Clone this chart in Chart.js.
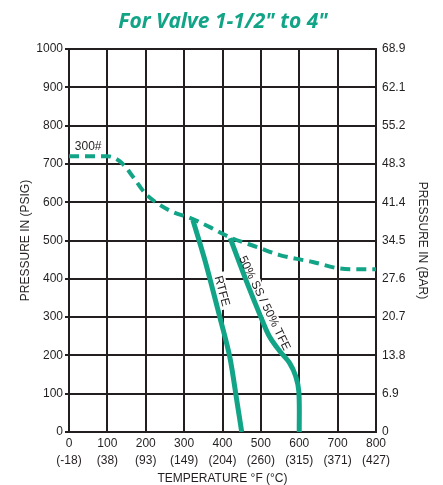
<!DOCTYPE html>
<html><head><meta charset="utf-8">
<script src="https://cdn.jsdelivr.net/npm/chart.js@4/dist/chart.umd.min.js"></script>
<style>html,body{margin:0;padding:0;background:#fff}</style>
</head><body>
<canvas id="c" width="443" height="485" style="width:443px;height:485px;display:block"></canvas>
<script>
// ---- data ----
const titleText = 'For Valve 1-1/2" to 4"';
const tempTicksF = [0, 100, 200, 300, 400, 500, 600, 700, 800];
const tempTicksC = ['(-18)', '(38)', '(93)', '(149)', '(204)', '(260)', '(315)', '(371)', '(427)'];
const psiTicks = [0, 100, 200, 300, 400, 500, 600, 700, 800, 900, 1000];
const barTicks = ['0', '6.9', '13.8', '20.7', '27.6', '34.5', '41.4', '48.3', '55.2', '62.1', '68.9'];

const class300Temp = [0, 100, 115, 140, 167, 198, 229, 271, 315, 367, 420, 490, 549, 594, 635, 698, 750, 800];
const class300Psi  = [720, 720, 717, 700, 666, 624, 598, 574, 559, 535, 508, 483, 462, 452, 444, 428, 425, 425];

const rtfeTemp = [323, 354, 393, 419, 437, 450];
const rtfePsi  = [553, 449, 300, 196, 84, 0];

const ssTfeTemp = [420, 463, 500, 522, 550, 575, 591, 599, 600];
const ssTfePsi  = [506, 392, 300, 250, 210, 180, 145, 105, 0];

const GREEN = '#12a487';
const INK = '#231f20';
const zip = (xs, ys) => xs.map((x, i) => ({x, y: ys[i]}));

const notes = [
  {text: '300#', x: 50, y: 746, rot: 0, bg: false},
  {text: 'RTFE', x: 398, y: 368, rot: 75, bg: true},
  {text: '50% SS / 50% TFE', x: 509, y: 336, rot: 64, bg: true}
];

const notePlugin = {
  id: 'notes',
  beforeDatasetsDraw(chart) {
    const {ctx, scales: {x, y}} = chart;
    ctx.save();
    ctx.font = '12px "Liberation Sans", Arial, sans-serif';
    notes.filter(n => n.bg).forEach(n => {
      const w = ctx.measureText(n.text).width;
      ctx.save();
      ctx.translate(x.getPixelForValue(n.x), y.getPixelForValue(n.y));
      ctx.rotate(n.rot * Math.PI / 180);
      ctx.fillStyle = '#fff';
      ctx.fillRect(-w / 2 - 3, -7, w + 6, 14);
      ctx.restore();
    });
    ctx.restore();
  },
  afterDatasetsDraw(chart) {
    const {ctx, scales: {x, y}} = chart;
    ctx.save();
    ctx.font = '12px "Liberation Sans", Arial, sans-serif';
    ctx.fillStyle = INK;
    ctx.textAlign = 'center';
    ctx.textBaseline = 'middle';
    notes.forEach(n => {
      ctx.save();
      ctx.translate(x.getPixelForValue(n.x), y.getPixelForValue(n.y));
      ctx.rotate(n.rot * Math.PI / 180);
      ctx.fillText(n.text, 0, 0);
      ctx.restore();
    });
    ctx.restore();
  },
  afterDraw(chart) {
    const {ctx} = chart;
    ctx.save();
    ctx.font = 'italic bold 21px "Open Sans", sans-serif';
    ctx.fillStyle = GREEN;
    ctx.textAlign = 'center';
    ctx.textBaseline = 'middle';
    ctx.fillText(titleText, 223, 22);
    ctx.restore();
  }
};

const tickFont = {family: '"Liberation Sans", Arial, sans-serif', size: 12};

new Chart(document.getElementById('c'), {
  type: 'line',
  data: {
    datasets: [
      {data: zip(class300Temp, class300Psi), borderColor: GREEN, borderWidth: 4, borderDash: [10, 6],
       cubicInterpolationMode: 'monotone', pointRadius: 0, fill: false},
      {data: zip(rtfeTemp, rtfePsi), borderColor: GREEN, borderWidth: 5, tension: 0.3, pointRadius: 0, fill: false},
      {data: zip(ssTfeTemp, ssTfePsi), borderColor: GREEN, borderWidth: 5, tension: 0.35, pointRadius: 0, fill: false}
    ]
  },
  options: {
    responsive: false,
    animation: false,
    devicePixelRatio: 1,
    layout: {padding: {top: 49, left: 0, right: 0, bottom: 0}},
    plugins: {legend: {display: false}, tooltip: {enabled: false}, title: {display: false}},
    scales: {
      x: {
        type: 'linear', min: 0, max: 800,
        afterBuildTicks: s => { s.ticks = tempTicksF.map(v => ({value: v})); },
        ticks: {color: INK, font: {family: tickFont.family, size: 12, lineHeight: 1.35}, padding: 4, maxRotation: 0, autoSkip: false,
          callback: v => [String(v), tempTicksC[tempTicksF.indexOf(v)]]},
        grid: {color: INK, lineWidth: 2, drawTicks: false},
        border: {color: INK, width: 2},
        title: {display: true, text: 'TEMPERATURE °F (°C)', color: INK,
          font: {family: tickFont.family, size: 12, lineHeight: 1}, padding: {top: 0, bottom: 0}},
        afterFit: s => { s.height = 53; }
      },
      y: {
        position: 'left', min: 0, max: 1000,
        afterBuildTicks: s => { s.ticks = psiTicks.map(v => ({value: v})); },
        ticks: {color: INK, font: tickFont, padding: 2, callback: v => String(v)},
        grid: {color: INK, lineWidth: 2, tickLength: 4},
        border: {color: INK, width: 2},
        title: {display: true, text: 'PRESSURE IN (PSIG)', color: INK,
          font: {family: tickFont.family, size: 12, lineHeight: 1.2}, padding: {top: 18, bottom: 0}},
        afterFit: s => { s.width = 69; }
      },
      y2: {
        position: 'right', min: 0, max: 1000,
        afterBuildTicks: s => { s.ticks = psiTicks.map(v => ({value: v})); },
        ticks: {color: INK, font: tickFont, padding: 6,
          callback: (v) => barTicks[psiTicks.indexOf(v)]},
        grid: {drawOnChartArea: false, drawTicks: false},
        border: {color: INK, width: 2},
        title: {display: true, text: 'PRESSURE IN (BAR)', color: INK,
          font: {family: tickFont.family, size: 12, lineHeight: 1.2}, padding: {top: 13, bottom: 0}},
        afterFit: s => { s.width = 67; }
      }
    }
  },
  plugins: [notePlugin]
});
</script>
</body></html>
